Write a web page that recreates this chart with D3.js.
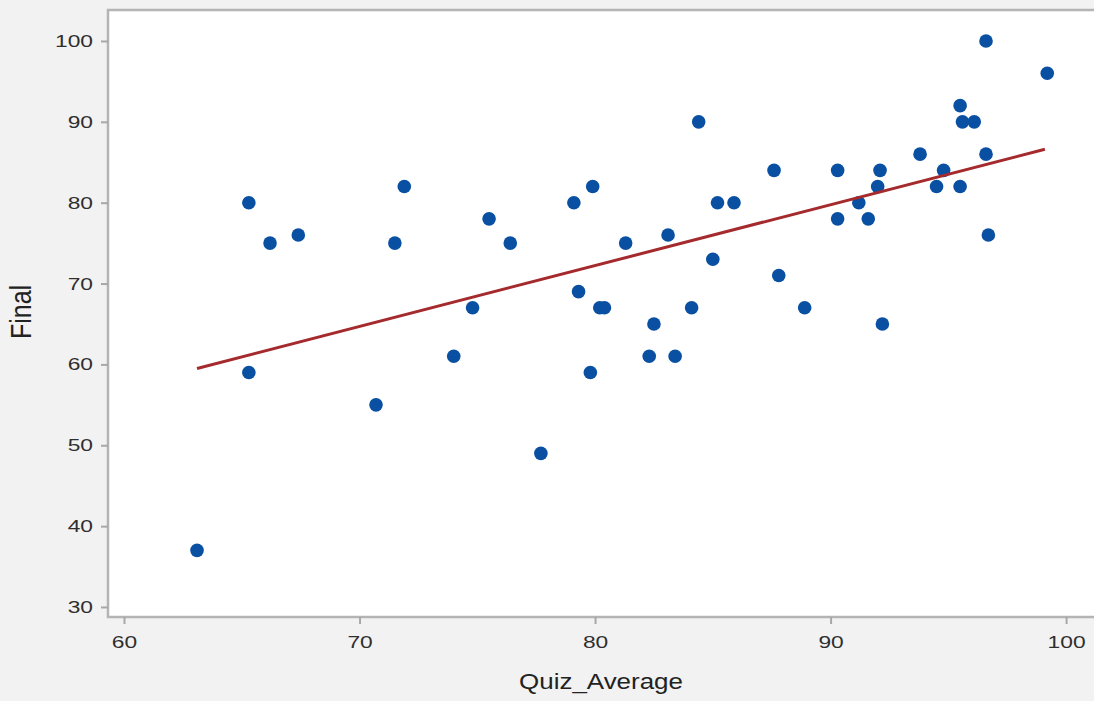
<!DOCTYPE html>
<html>
<head>
<meta charset="utf-8">
<title>Final vs Quiz_Average</title>
<script src="https://d3js.org/d3.v7.min.js"></script>
<style>
  html, body { margin: 0; padding: 0; background: #f2f2f2; }
  body { font-family: "Liberation Sans", Arial, Helvetica, sans-serif; }
  svg { display: block; }
</style>
</head>
<body>
<svg id="chart" width="1094" height="701"></svg>
<script>
// data
var quizAverage = [63.1, 65.3, 65.3, 66.2, 67.4, 70.7, 71.5, 71.9, 74.0, 74.8,
                   75.5, 76.4, 77.7, 79.1, 79.3, 79.8, 79.9, 80.2, 80.4, 81.3,
                   82.3, 82.5, 83.1, 83.4, 84.1, 84.4, 85.0, 85.2, 85.9, 87.6,
                   87.8, 88.9, 90.3, 90.3, 91.2, 91.6, 92.0, 92.1, 92.2, 93.8,
                   94.5, 94.8, 95.5, 95.6, 95.5, 96.1, 96.6, 96.6, 96.7, 99.2];
var finalScore  = [37, 59, 80, 75, 76, 55, 75, 82, 61, 67,
                   78, 75, 49, 80, 69, 59, 82, 67, 67, 75,
                   61, 65, 76, 61, 67, 90, 73, 80, 80, 84,
                   71, 67, 84, 78, 80, 78, 82, 84, 65, 86,
                   82, 84, 92, 90, 82, 90, 100, 86, 76, 96];
// fitted line end points
var fitX = [63.1, 99.1];
var fitY = [59.5, 86.6];

var xTicks = [60, 70, 80, 90, 100];
var yTicks = [30, 40, 50, 60, 70, 80, 90, 100];

var svg = d3.select("#chart");
var plotLeft = 108, plotRight = 1096, plotTop = 10, plotBottom = 617;
var stretch = 1.38; // tick text in the picture is widened horizontally

var x = d3.scaleLinear().domain([59.32, 101.27]).range([plotLeft, plotRight]);
var y = d3.scaleLinear().domain([28.76, 103.83]).range([plotBottom, plotTop]);

// plot area
svg.append("rect")
  .attr("x", plotLeft).attr("y", plotTop)
  .attr("width", plotRight - plotLeft).attr("height", plotBottom - plotTop)
  .attr("fill", "#ffffff")
  .attr("stroke", "#b4b4b4")
  .attr("stroke-width", 2.5);

// y axis
var yAxis = svg.append("g")
  .attr("transform", "translate(" + plotLeft + ",0)")
  .call(d3.axisLeft(y).tickValues(yTicks).tickSize(7).tickPadding(0).tickFormat(d3.format("d")));
yAxis.select(".domain").remove();
yAxis.selectAll(".tick line").attr("stroke", "#a8a8a8").attr("stroke-width", 2);
yAxis.selectAll(".tick text")
  .attr("x", null).attr("dy", null)
  .attr("font-size", 16.5).attr("fill", "#2e2e2e")
  .attr("font-family", "Liberation Sans, Arial, sans-serif")
  .attr("text-anchor", "end")
  .attr("transform", "translate(-15,5.5) scale(" + stretch + ",1)");

// x axis
var xAxis = svg.append("g")
  .attr("transform", "translate(0," + plotBottom + ")")
  .call(d3.axisBottom(x).tickValues(xTicks).tickSize(7).tickPadding(0).tickFormat(d3.format("d")));
xAxis.select(".domain").remove();
xAxis.selectAll(".tick line").attr("stroke", "#a8a8a8").attr("stroke-width", 2);
xAxis.selectAll(".tick text")
  .attr("y", null).attr("dy", null)
  .attr("font-size", 16.5).attr("fill", "#2e2e2e")
  .attr("font-family", "Liberation Sans, Arial, sans-serif")
  .attr("text-anchor", "middle")
  .attr("transform", "translate(0,31) scale(" + stretch + ",1)");

// points
svg.append("g")
  .selectAll("circle")
  .data(d3.range(quizAverage.length))
  .enter()
  .append("circle")
    .attr("cx", function(i) { return x(quizAverage[i]); })
    .attr("cy", function(i) { return y(finalScore[i]); })
    .attr("r", 6.8)
    .attr("fill", "#0a50a2");

// fit line
svg.append("path")
  .datum(d3.range(fitX.length))
  .attr("d", d3.line().x(function(i) { return x(fitX[i]); }).y(function(i) { return y(fitY[i]); }))
  .attr("stroke", "#a52a2d")
  .attr("stroke-width", 3)
  .attr("fill", "none");

// axis titles
svg.append("text")
  .attr("transform", "translate(31,312) scale(1.15,1) rotate(-90)")
  .attr("text-anchor", "middle")
  .attr("font-size", 25)
  .attr("fill", "#222")
  .text("Final");

svg.append("text")
  .attr("transform", "translate(601,689) scale(1.18,1)")
  .attr("text-anchor", "middle")
  .attr("font-size", 22)
  .attr("fill", "#222")
  .text("Quiz_Average");
</script>
</body>
</html>
